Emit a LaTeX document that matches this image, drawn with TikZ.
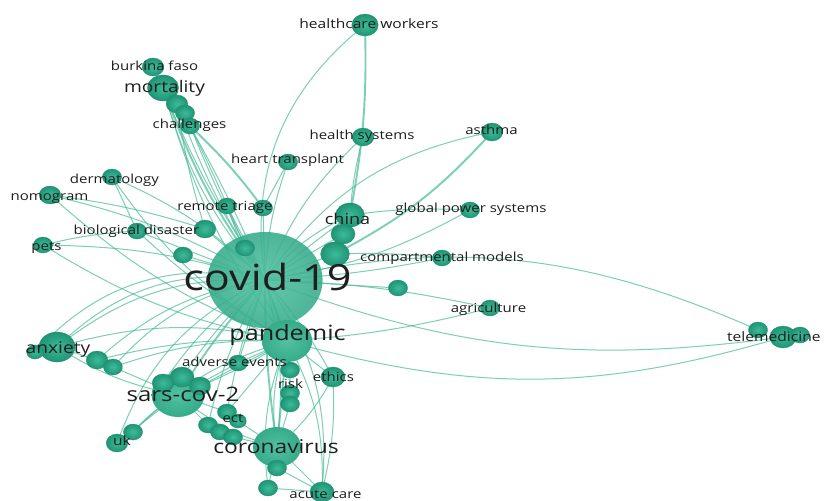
\documentclass[tikz,border=0pt]{standalone}
\usepackage{fontspec}
\setmainfont{Open Sans}
\newfontfamily\kwfont[FakeStretch=1.2]{Open Sans}
\usetikzlibrary{shapes.geometric}
\definecolor{nodein}{HTML}{3DBB98}
\definecolor{nodeout}{HTML}{1F9474}
\definecolor{nodeline}{HTML}{1E8F70}
\definecolor{hubin}{HTML}{52C1A2}
\definecolor{hubout}{HTML}{35AB8A}
\definecolor{linkcol}{HTML}{45BA97}
\definecolor{labcol}{HTML}{1E1E1E}
\pgfdeclarelayer{links}
\pgfsetlayers{links,main}
\tikzset{
  kw/.style={ellipse, inner sep=0pt, minimum height=#1*2pt, minimum width=#1*2.4pt,
    inner color=nodein, outer color=nodeout, draw=nodeline, line width=0.3pt},
  hub/.style={kw=#1, inner color=hubin, outer color=hubout, draw=none},
  lab/.style={anchor=base, inner sep=0pt, text=labcol, font=\kwfont\fontsize{#1}{#1}\selectfont},
  lnk/.style={draw=linkcol, line width=1pt, opacity=0.7},
  lnkb/.style={lnk, line width=1.9pt},
}
\begin{document}
\begin{tikzpicture}[x=1pt,y=1pt]
\useasboundingbox (0,0) rectangle (828,-501);

% ---- keyword bubbles ----
\node[hub=48, opacity=0.88] (C) at (265,-280) {};
\node[hub=21] (P) at (287,-341) {};
\node[kw=15] (A) at (57,-347) {};
\node[kw=9] (A2) at (97,-360) {};
\node[kw=8] (A3) at (113,-367) {};
\node[kw=7] (A4) at (35,-352) {};
\node[hub=22] (S) at (178,-395) {};
\node[kw=10] (S2) at (182,-377) {};
\node[kw=9] (S3) at (163,-383) {};
\node[kw=9] (S4) at (200,-386) {};
\node[kw=8] (E) at (227,-412) {};
\node[kw=7] (E2) at (238,-421) {};
\node[kw=8] (E3) at (208,-425) {};
\node[kw=8] (E4) at (220,-432) {};
\node[kw=8] (E5) at (233,-437) {};
\node[kw=9] (U) at (117,-443) {};
\node[kw=8] (U2) at (133,-432) {};
\node[hub=20] (K) at (277,-447) {};
\node[kw=8] (K2) at (277,-468) {};
\node[kw=8] (K3) at (268,-488) {};
\node[kw=10] (AC) at (322,-492) {};
\node[kw=8] (R) at (290,-370) {};
\node[kw=8] (R2) at (290,-393) {};
\node[kw=8] (R3) at (290,-404) {};
\node[kw=10] (ET) at (333,-377) {};
\node[kw=8] (AE) at (238,-363) {};
\node[kw=13] (M) at (163,-88) {};
\node[kw=9] (M2) at (177,-104) {};
\node[kw=8] (M3) at (185,-113) {};
\node[kw=8] (CH) at (190,-126) {};
\node[kw=9] (BF) at (153,-67) {};
\node[kw=11] (HW) at (365,-25) {};
\node[kw=9] (HS) at (363,-137) {};
\node[kw=8] (HT) at (288,-162) {};
\node[kw=8] (D) at (112,-177) {};
\node[kw=9] (N) at (50,-195) {};
\node[kw=8] (RT) at (227,-206) {};
\node[kw=8] (RT2) at (263,-208) {};
\node[kw=8] (BD) at (137,-231) {};
\node[kw=9] (BD2) at (205,-229) {};
\node[kw=8] (PE) at (43,-245) {};
\node[kw=8] (X1) at (183,-255) {};
\node[kw=8] (X2) at (245,-248) {};
\node[kw=12] (CN) at (350,-215) {};
\node[kw=10] (CN2) at (343,-234) {};
\node[kw=12] (CN3) at (335,-254) {};
\node[kw=9] (AS) at (492,-132) {};
\node[kw=8] (G) at (470,-210) {};
\node[kw=8] (CM) at (442,-258) {};
\node[kw=8] (AG) at (490,-308) {};
\node[kw=8] (X3) at (398,-288) {};
\node[kw=8] (T1) at (758,-330) {};
\node[kw=11] (T2) at (783,-337) {};
\node[kw=8] (T3) at (800,-335) {};

% ---- links ----
\begin{pgfonlayer}{links}
\fill[white] (0,0) rectangle (828,-501);
% upper fan
\draw[lnk] (C.center) to[bend left=30] (HW.center);
\draw[lnkb] (CN.center) to[bend right=6] (HW.center);
\draw[lnk] (C.center) to[bend left=12] (HS.center);
\draw[lnk] (CN.center) to[bend left=5] (HS.center);
\draw[lnk] (C.center) to[bend left=8] (HT.center);
\draw[lnk] (HT.center) -- (RT2.center);
\draw[lnk] (C.center) to[bend left=22] (AS.center);
\draw[lnkb] (CN3.center) to[bend right=10] (AS.center);
\draw[lnk] (CN.center) to[bend left=5] (G.center);
\draw[lnk] (C.center) to[bend right=10] (G.center);
\draw[lnk] (C.center) to[bend right=4] (CM.center);
\draw[lnk] (CN3.center) to[bend left=4] (CM.center);
\draw[lnk] (CN.center) -- (C.center);
\draw[lnk] (CN2.center) -- (C.center);
\draw[lnk] (CN3.center) -- (C.center);
\draw[lnk] (CN.center) to[bend right=12] (C.center);
\draw[lnk] (C.center) to[bend left=18] (T1.center);
\draw[lnk] (C.center) to[bend right=14] (T2.center);
\draw[lnk] (P.center) to[bend right=16] (T2.center);
\draw[lnk] (C.center) to[bend left=5] (AG.center);
\draw[lnk] (P.center) to[bend right=5] (AG.center);
\draw[lnk] (C.center) -- (X3.center);
% mortality bundle
\draw[lnk] (BF.center) -- (M.center);
\draw[lnk] (M.center) -- (M2.center) -- (M3.center) -- (CH.center);
\draw[lnkb] (M.center) to[bend right=8] (C.center);
\draw[lnk] (M.center) to[bend right=12] (C.center);
\draw[lnk] (M.center) to[bend right=10] (P.center);
\draw[lnk] (M2.center) to[bend right=6] (C.center);
\draw[lnk] (M3.center) to[bend right=4] (C.center);
\draw[lnk] (M.center) to[bend right=5] (X2.center);
\draw[lnk] (M2.center) to[bend right=4] (BD2.center);
\draw[lnk] (CH.center) to[bend left=3] (C.center);
\draw[lnkb] (CH.center) to[bend left=5] (RT2.center);
\draw[lnk] (CH.center) to[bend left=2] (X2.center);
% left fan
\draw[lnk] (D.center) to[bend left=10] (C.center);
\draw[lnk] (D.center) -- (BD.center);
\draw[lnk] (D.center) to[bend right=12] (P.center);
\draw[lnk] (N.center) to[bend left=8] (C.center);
\draw[lnk] (N.center) to[bend left=5] (BD2.center);
\draw[lnk] (N.center) to[bend right=10] (P.center);
\draw[lnk] (PE.center) to[bend left=8] (C.center);
\draw[lnk] (PE.center) to[bend right=10] (P.center);
\draw[lnk] (PE.center) to[bend left=5] (BD.center);
\draw[lnk] (BD.center) -- (C.center);
\draw[lnk] (BD.center) to[bend right=6] (P.center);
\draw[lnk] (BD2.center) -- (C.center);
\draw[lnk] (RT.center) -- (C.center);
\draw[lnk] (RT2.center) -- (C.center);
\draw[lnk] (RT.center) to[bend right=4] (P.center);
\draw[lnk] (X1.center) -- (C.center);
\draw[lnk] (X2.center) -- (C.center);
% anxiety
\draw[lnk] (A.center) to[bend left=20] (C.center);
\draw[lnk] (A.center) to[bend left=26] (C.center);
\draw[lnk] (A4.center) to[bend left=30] (C.center);
\draw[lnk] (A.center) to[bend left=14] (P.center);
\draw[lnk] (A2.center) to[bend left=16] (C.center);
\draw[lnk] (A2.center) to[bend left=8] (P.center);
\draw[lnk] (A3.center) to[bend left=10] (P.center);
\draw[lnk] (A3.center) to[bend left=18] (C.center);
\draw[lnk] (A.center) to[bend right=10] (S.center);
\draw[lnk] (A3.center) -- (S.center);
\draw[lnk] (A.center) -- (A2.center) -- (A3.center);
% sars-cov-2
\draw[lnkb] (S.center) to[bend left=5] (C.center);
\draw[lnk] (S2.center) to[bend left=6] (C.center);
\draw[lnk] (S3.center) to[bend left=10] (C.center);
\draw[lnk] (S4.center) -- (P.center);
\draw[lnk] (S.center) to[bend right=5] (P.center);
\draw[lnk] (S.center) to[bend right=12] (K.center);
\draw[lnk] (S.center) -- (U.center);
\draw[lnk] (U.center) to[bend left=22] (C.center);
\draw[lnk] (U2.center) to[bend left=14] (P.center);
\draw[lnk] (U2.center) to[bend left=8] (S.center);
\draw[lnk] (S.center) -- (E3.center) -- (E4.center) -- (E5.center) -- (K.center);
% ect, risk, ethics, adverse events
\draw[lnk] (E.center) -- (P.center);
\draw[lnk] (E.center) to[bend left=6] (C.center);
\draw[lnk] (E2.center) -- (K.center);
\draw[lnk] (E3.center) to[bend left=8] (C.center);
\draw[lnk] (E.center) -- (S.center);
\draw[lnk] (R.center) -- (P.center);
\draw[lnk] (R.center) to[bend right=4] (C.center);
\draw[lnk] (R2.center) -- (P.center);
\draw[lnk] (R3.center) -- (K.center);
\draw[lnk] (R.center) -- (R2.center) -- (R3.center);
\draw[lnk] (ET.center) -- (P.center);
\draw[lnk] (ET.center) to[bend right=6] (C.center);
\draw[lnk] (ET.center) to[bend left=10] (K.center);
\draw[lnk] (AE.center) -- (P.center);
\draw[lnk] (AE.center) -- (C.center);
\draw[lnk] (AE.center) -- (S.center);
% coronavirus and acute care
\draw[lnkb] (K.center) to[bend left=4] (C.center);
\draw[lnkb] (K.center) -- (P.center);
\draw[lnk] (K.center) to[bend right=10] (C.center);
\draw[lnk] (K.center) to[bend left=14] (P.center);
\draw[lnk] (K2.center) -- (K.center);
\draw[lnk] (K3.center) -- (K.center);
\draw[lnk] (K3.center) to[bend left=14] (P.center);
\draw[lnk] (AC.center) -- (K.center);
\draw[lnk] (AC.center) to[bend right=15] (P.center);
\draw[lnk] (AC.center) to[bend right=20] (C.center);
\draw[lnk] (AC.center) to[bend right=8] (ET.center);
\draw[lnk] (K2.center) -- (AC.center);
\draw[lnk] (K3.center) -- (AC.center);
\draw[lnkb] (P.center) -- (C.center);
\end{pgfonlayer}

% ---- labels ----
\node[lab=36] (lC) at (267.5,-290) {covid-19};
\node[lab=21] (lP) at (287.5,-340) {pandemic};
\node[lab=20] (lS) at (183,-401) {sars-cov-2};
\node[lab=19] (lK) at (276,-453) {coronavirus};
\node[lab=16] (lM) at (164.5,-92) {mortality};
\node[lab=16] (lA) at (58,-353) {anxiety};
\node[lab=15] (lCN) at (347.5,-224) {china};
\node[lab=13] (lHW) at (369,-28) {healthcare workers};
\node[lab=12.5] (lBF) at (154.5,-70) {burkina faso};
\node[lab=12.5] (lCH) at (189.5,-128) {challenges};
\node[lab=12.5] (lHS) at (362,-139) {health systems};
\node[lab=12.5] (lHT) at (287.5,-163) {heart transplant};
\node[lab=12.5] (lAS) at (491.5,-134) {asthma};
\node[lab=12.5] (lD) at (114.5,-183) {dermatology};
\node[lab=12.5] (lN) at (49.5,-200) {nomogram};
\node[lab=12.5] (lRT) at (225,-210) {remote triage};
\node[lab=12.5] (lG) at (471,-212) {global power systems};
\node[lab=12.5] (lBD) at (136.5,-234) {biological disaster};
\node[lab=12.5] (lPE) at (46.5,-250) {pets};
\node[lab=12.5] (lCM) at (442,-261) {compartmental models};
\node[lab=12.5] (lAG) at (488.5,-312) {agriculture};
\node[lab=13, anchor=base west] (lT) at (727,-341) {telemedicine};
\node[lab=12.5] (lAE) at (234.5,-366) {adverse events};
\node[lab=12.5] (lET) at (333.5,-381) {ethics};
\node[lab=12.5] (lR) at (290.5,-388) {risk};
\node[lab=12.5] (lE) at (233,-422) {ect};
\node[lab=13] (lU) at (122,-445) {uk};
\node[lab=12.5] (lAC) at (325.5,-498.5) {acute care};
\end{tikzpicture}
\end{document}
